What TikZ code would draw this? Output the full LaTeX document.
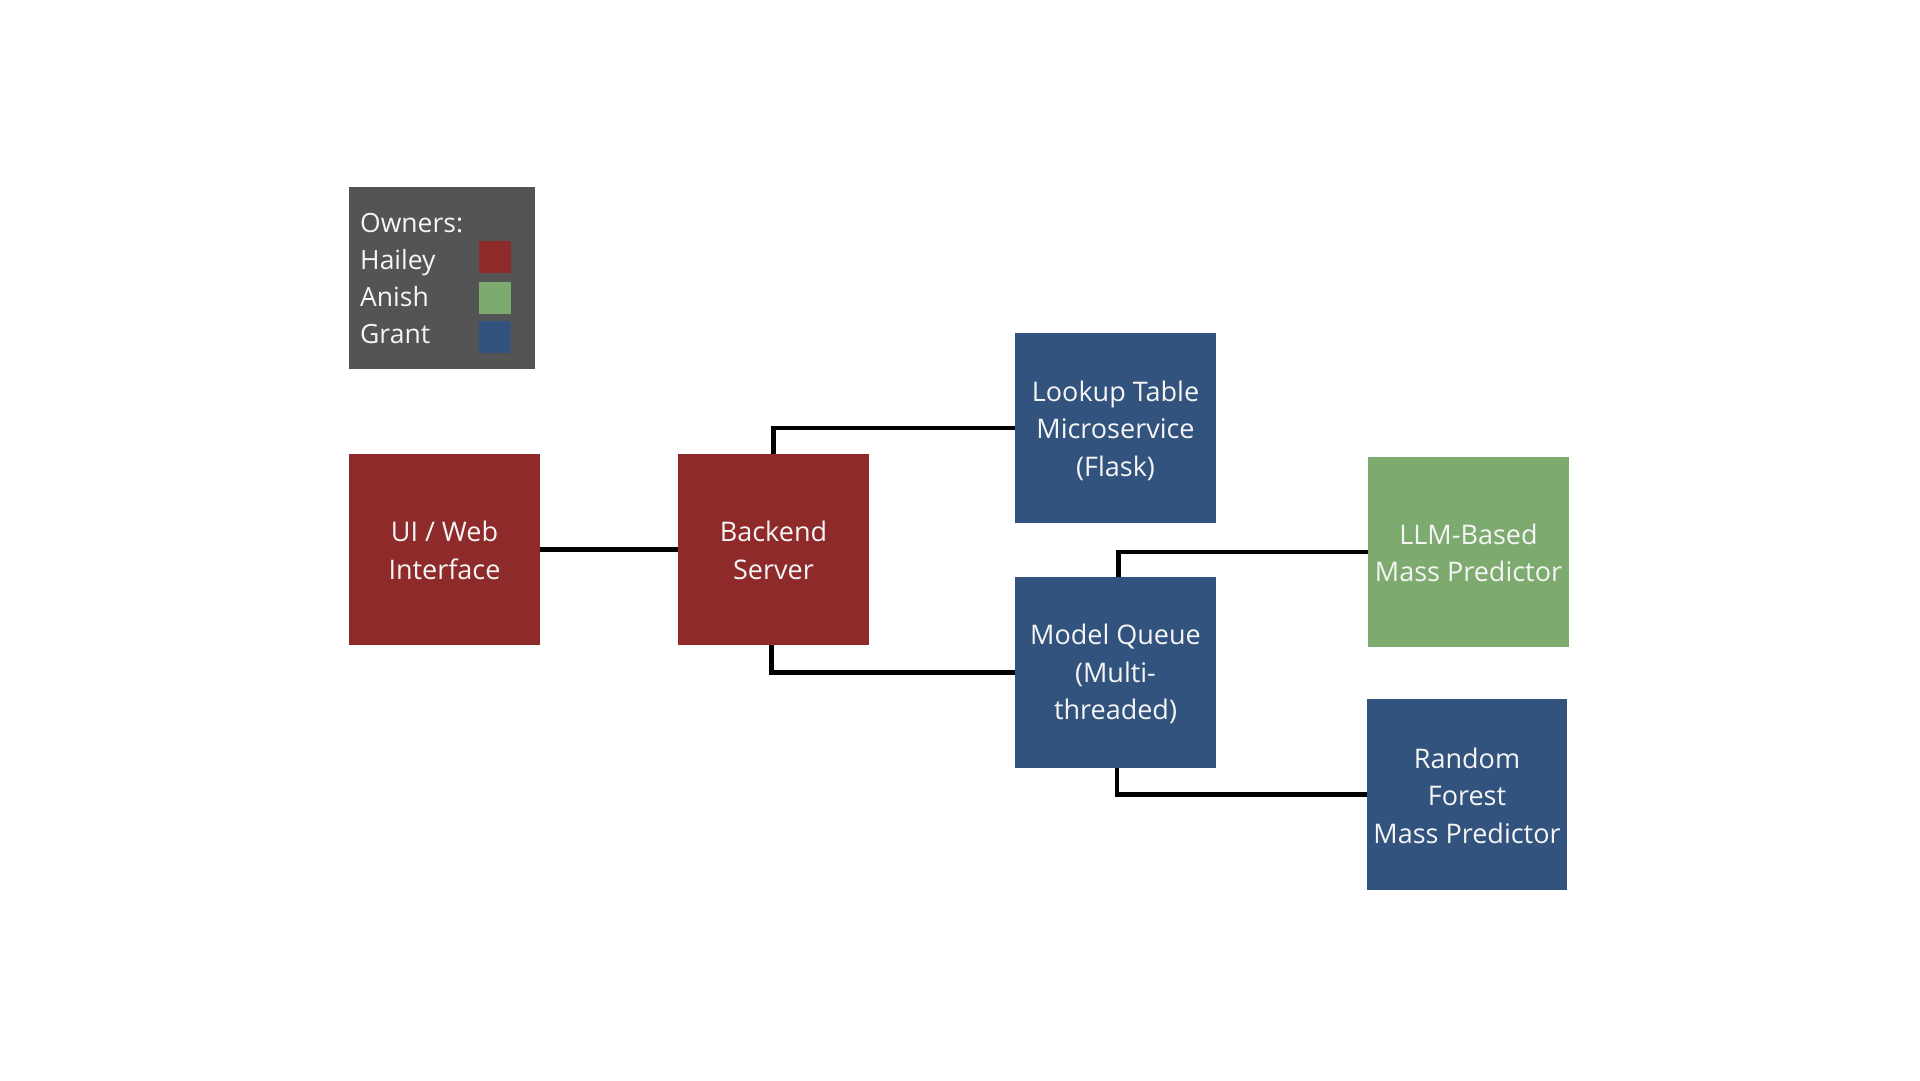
\documentclass[tikz,border=0pt]{standalone}
\usepackage{fontspec}
\setmainfont{Open Sans}
\definecolor{cred}{RGB}{143,42,43}
\definecolor{cgreen}{RGB}{125,170,110}
\definecolor{cblue}{RGB}{50,83,125}
\definecolor{cgray}{RGB}{84,84,84}
\definecolor{ctext}{RGB}{245,245,245}
\begin{document}
\begin{tikzpicture}[x=1pt,y=-1pt,
  box/.style={rectangle, inner sep=0pt},
  boxtext/.style={inner sep=0pt, text=ctext, align=center,
    font=\fontsize{27}{37.5}\selectfont},
  wire/.style={line width=4.3pt, black},
  legtext/.style={anchor=base west, inner sep=0pt, text=ctext, font=\fontsize{26.5}{37}\selectfont},
  swatch/.style={rectangle, inner sep=0pt, minimum width=32pt, minimum height=32pt}]
\useasboundingbox (0,0) rectangle (1920,1080);
\fill[white] (0,0) rectangle (1920,1080);
% legend
\node[rectangle, fill=cgray, inner sep=0pt, minimum width=186pt, minimum height=182pt] (legend) at (442,278) {};
\node[legtext] (lo) at (360,232) {Owners:};
\node[legtext] (lh) at (360,269) {Hailey};
\node[legtext] (la) at (360,306) {Anish};
\node[legtext] (lg) at (360,343) {Grant};
\node[swatch, fill=cred] (sh) at (495,257) {};
\node[swatch, fill=cgreen] (sa) at (495,297.5) {};
\node[swatch, fill=cblue] (sg) at (495,337) {};
% boxes
\node[box, fill=cred, minimum width=191pt, minimum height=191pt] (ui) at (444.5,549.5) {};
\node[box, fill=cred, minimum width=191pt, minimum height=191pt] (be) at (773.5,549.5) {};
\node[box, fill=cblue, minimum width=201pt, minimum height=190pt] (lt) at (1115.5,428) {};
\node[box, fill=cblue, minimum width=201pt, minimum height=191pt] (mq) at (1115.5,672.5) {};
\node[box, fill=cgreen, minimum width=201pt, minimum height=190pt] (llm) at (1468.5,552) {};
\node[box, fill=cblue, minimum width=200pt, minimum height=191pt] (rf) at (1467,794.5) {};
% box texts
\node[boxtext] (uit) at ([yshift=-1pt]ui.center) {UI / Web\\Interface};
\node[boxtext] (bet) at ([yshift=-1pt]be.center) {Backend\\Server};
\node[boxtext] (ltt) at ([yshift=-2.5pt]lt.center) {Lookup Table\\Microservice\\(Flask)};
\node[boxtext] (mqt) at ([yshift=-1.5pt]mq.center) {Model Queue\\(Multi-\\threaded)};
\node[boxtext] (llmt) at ([yshift=-1pt]llm.center) {LLM-Based\\Mass Predictor};
\node[boxtext] (rft) at ([yshift=-1pt]rf.center) {Random\\Forest\\Mass Predictor};
% connectors
\draw[wire] (ui.east) -- (be.west);
\draw[wire] (be.north) |- (lt.west);
\draw[wire] ([xshift=-2pt]be.south) |- (mq.west);
\draw[wire] ([xshift=3pt]mq.north) |- (llm.west);
\draw[wire] ([xshift=1.5pt]mq.south) |- (rf.west);
\end{tikzpicture}
\end{document}
